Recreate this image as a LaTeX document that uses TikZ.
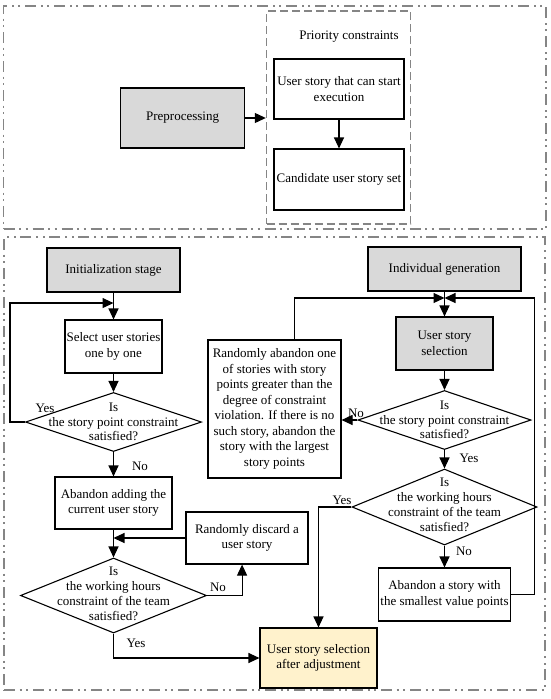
\documentclass[tikz,border=0pt]{standalone}
\usepackage{fontspec}
\setmainfont{Liberation Serif}
\usetikzlibrary{shapes.geometric,arrows.meta,calc}
\definecolor{boxgray}{HTML}{D9D9D9}
\definecolor{finfill}{HTML}{FFF2CC}
\definecolor{framegray}{HTML}{858585}
\begin{document}
\begin{tikzpicture}[x=1pt,y=-1pt,
  font=\fontsize{13}{15.5}\selectfont,
  box/.style={draw,line width=1.1pt,align=center,inner sep=0pt},
  graybox/.style={box,fill=boxgray},
  dia/.style={diamond,draw,line width=1.1pt,inner sep=0pt},
  txt/.style={align=center,inner sep=0pt},
  dtxt/.style={align=center,inner sep=0pt,font=\fontsize{13}{14.8}\selectfont},
  arr/.style={line width=1.1pt,-{Triangle[length=11pt,width=10pt]}},
  frame/.style={draw=framegray,line width=1.8pt,dash pattern=on 11pt off 4.5pt on 2pt off 4.5pt on 2pt off 5pt},
  dframe/.style={draw=framegray,line width=1.6pt,dash pattern=on 8pt off 4pt}
]
\useasboundingbox (0,0) rectangle (550,699);
% frames
\node[frame,minimum width=542.5pt,minimum height=223pt,inner sep=0pt] (top) at (274.75,117.5) {};
\node[frame,minimum width=541pt,minimum height=453pt,inner sep=0pt] (bot) at (274.5,463.5) {};
% top part
\node[dframe,minimum width=144pt,minimum height=213pt,inner sep=0pt] (pc) at (338.6,117.5) {};
\node[txt] (pct) at (349,37) {Priority constraints};
\node[graybox,minimum width=124pt,minimum height=60pt] (pre) at (182.6,118) {Preprocessing};
\node[box,minimum width=130pt,minimum height=60pt] (us1) at (339,89) {User story that can start\\execution};
\node[box,minimum width=130pt,minimum height=61pt] (us2) at (339,179.5) {Candidate user story set};
\draw[arr] (pre.east) -- (pre.east -| pc.west);
\draw[arr] (us1.south) -- (us2.north);
% bottom left
\node[graybox,minimum width=133pt,minimum height=44pt] (init) at (113.5,270) {Initialization stage};
\node[box,minimum width=97pt,minimum height=53pt] (sel) at (113.5,346.5) {Select user stories\\one by one};
\node[dia,minimum width=176pt,minimum height=59pt] (d1) at (113.5,422) {};
\node[dtxt] (d1t) at (d1.center) {Is\\the story point constraint\\satisfied?};
\node[box,minimum width=117pt,minimum height=52pt] (ab) at (113.5,503) {Abandon adding the\\current user story};
\node[dia,minimum width=186pt,minimum height=75pt] (d2) at (113.5,595.5) {};
\node[dtxt] (d2t) at (113.5,594) {Is\\the working hours\\constraint of the team\\satisfied?};
\node[box,minimum width=122pt,minimum height=52pt] (disc) at (247,538) {Randomly discard a\\user story};
\node[box,fill=finfill,minimum width=117pt,minimum height=60pt] (fin) at (318.5,658) {User story selection\\after adjustment};
\draw[arr] (init.south) -- (sel.north);
\draw[arr] (d1.west) -- ++(-15,0) |- ($(init.south)!0.39!(sel.north)$);
\draw[arr] (sel.south) -- (d1.north);
\draw[arr] (d1.south) -- (ab.north);
\draw[arr] (ab.south) -- (d2.north);
\draw[arr] (disc.west) -- (disc.west -| ab.south);
\draw[arr] (d2.east) -| ($(disc.south west)!0.46!(disc.south east)$);
\draw[arr] (d2.south) |- (fin.west);
\node[txt] (y1) at (45,408) {Yes};
\node[txt] (n1) at (140,466) {No};
\node[txt] (n2) at (218,587) {No};
\node[txt] (y2) at (136,643) {Yes};
% bottom right
\node[graybox,minimum width=153pt,minimum height=44pt] (ig) at (444.5,269) {Individual generation};
\node[graybox,minimum width=97pt,minimum height=53pt] (uss) at (444.5,343.5) {User story\\selection};
\node[dia,minimum width=173pt,minimum height=59pt] (d3) at (444.5,420) {};
\node[dtxt] (d3t) at (d3.center) {Is\\the story point constraint\\satisfied?};
\node[box,minimum width=133pt,minimum height=138pt] (ra) at (274.5,409) {Randomly abandon one\\of stories with story\\points greater than the\\degree of constraint\\violation. If there is no\\such story, abandon the\\story with the largest\\story points};
\node[dia,minimum width=185pt,minimum height=76pt] (d4) at (444.5,507) {};
\node[dtxt] (d4t) at (444.5,505) {Is\\the working hours\\constraint of the team\\satisfied?};
\node[box,minimum width=132pt,minimum height=53pt] (sm) at (444.5,594.5) {Abandon a story with\\the smallest value points};
\coordinate (J) at (444.5,298);
\draw[arr] (ig.south) -- (uss.north);
\draw[arr] ($(ra.north west)!0.647!(ra.north east)$) |- (J);
\draw[arr] (sm.east) -- ++(23,0) |- (J);
\draw[arr] (uss.south) -- (d3.north);
\draw[arr] (d3.west) -- (d3.west -| ra.east);
\draw[arr] (d3.south) -- (d4.north);
\draw[arr] (d4.west) -| (fin.north);
\draw[arr] (d4.south) -- (sm.north);
\node[txt] (n3) at (356,413) {No};
\node[txt] (y3) at (469,458) {Yes};
\node[txt] (y4) at (342,500) {Yes};
\node[txt] (n4) at (464,551) {No};
\end{tikzpicture}
\end{document}
